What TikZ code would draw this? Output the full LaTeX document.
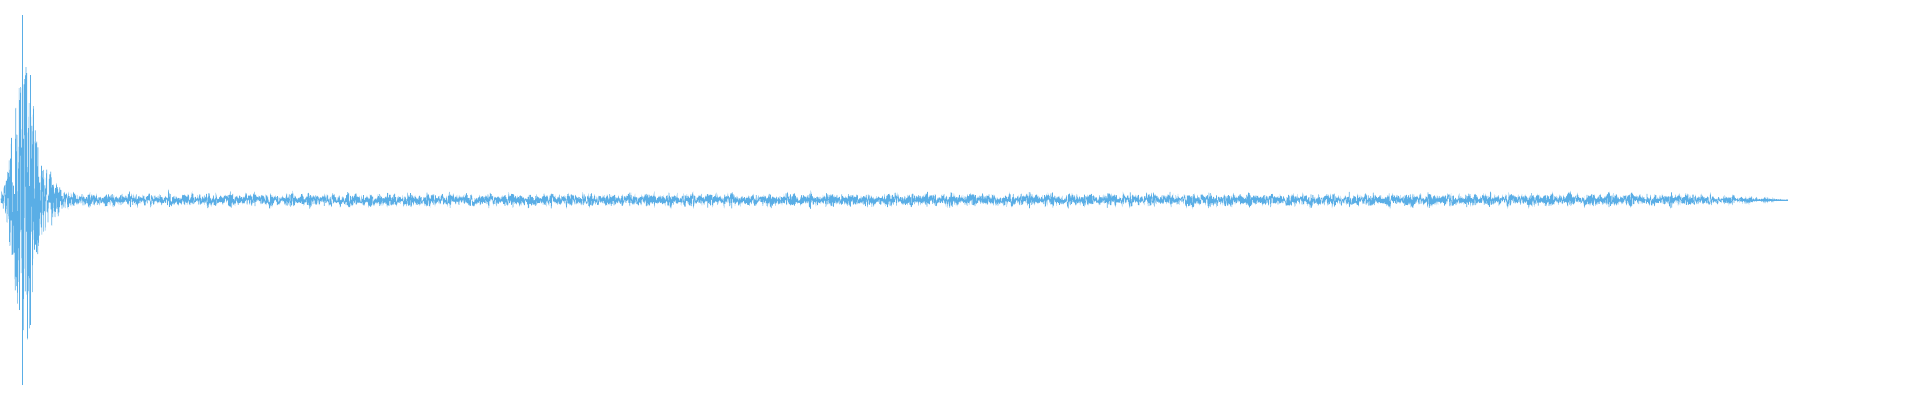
\documentclass[tikz,border=0pt]{standalone}
\definecolor{wave}{HTML}{5AAEE6}
\begin{document}
\begin{tikzpicture}[x=1bp,y=1bp,wavestyle/.style={draw=wave,line width=0.6bp},
 declare function={cx(\t)=min(\t,100);}]
\useasboundingbox[fill=white] (0,0) rectangle (1920,400);
\pgfmathsetseed{7}
\draw[wavestyle] plot[samples=7000,domain=1:1788]
 (\x,{200+(3+3*sin(mod(\x,360)*9)^4+3*sin(mod(\x,360)*23)^6+110*exp(-((cx(\x)-20)/10)^2)+70*exp(-((cx(\x)-30)/8)^2)+25*exp(-((cx(\x)-45)/15)^2))*min(1,max(0.05,(1790-\x)/110))*rand});
\draw[wavestyle] (22,15) -- (22,385);
\draw[wavestyle] (30,75) -- (30,325);
\draw[wavestyle] (19,90) -- (19,300);
\draw[wavestyle] (1740,200) -- (1788,200);
\end{tikzpicture}
\end{document}
